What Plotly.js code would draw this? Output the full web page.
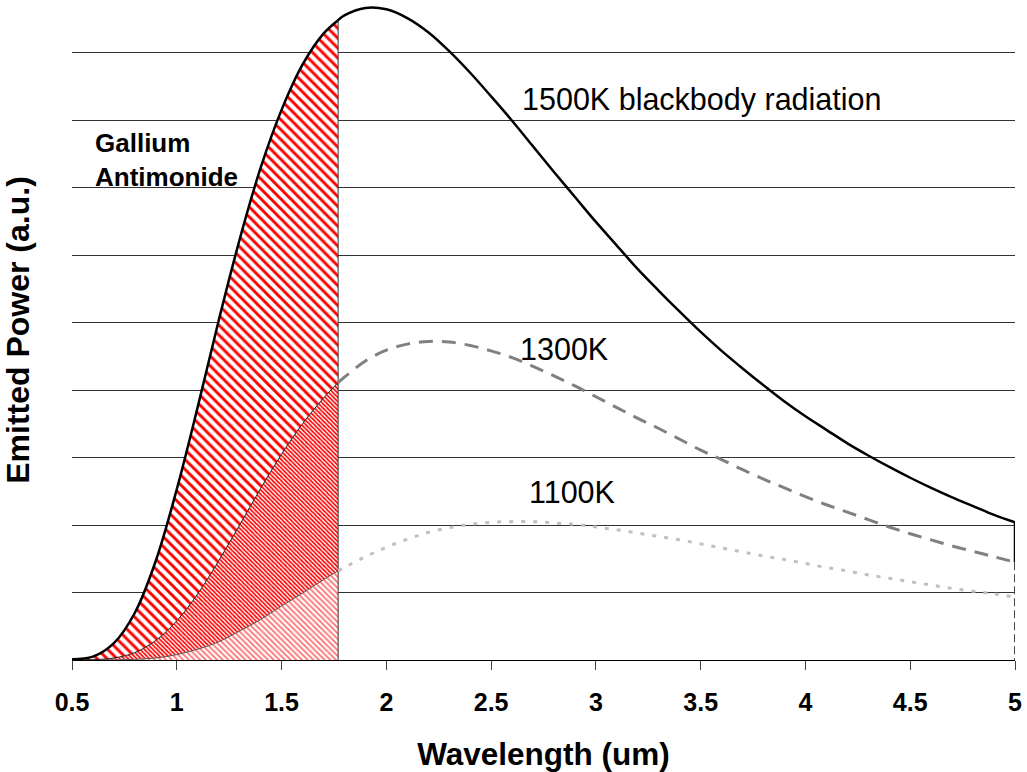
<!DOCTYPE html>
<html><head><meta charset="utf-8">
<script src="https://cdn.plot.ly/plotly-3.0.1.min.js"></script>
<style>html,body{margin:0;padding:0;background:#fff;} #chart{width:1027px;height:772px;}</style>
</head><body><div id="chart"></div>
<script>
// Wavelength samples (um)
const wavelength = [0.5,0.6,0.7,0.8,0.9,1.0,1.1,1.2,1.3,1.4,1.5,1.6,1.7,1.77,1.8,1.9,2.0,2.1,2.2,2.3,2.4,2.5,2.6,2.7,2.8,2.9,3.0,3.1,3.2,3.3,3.4,3.5,3.6,3.7,3.8,3.9,4.0,4.1,4.2,4.3,4.4,4.5,4.6,4.7,4.8,4.9,5.0];
// Emitted power (a.u., gridline units)
const power1500 = [0.01,0.05,0.25,0.70,1.47,2.53,3.75,5.03,6.23,7.29,8.15,8.82,9.28,9.48,9.55,9.66,9.64,9.51,9.30,9.02,8.70,8.35,7.99,7.61,7.23,6.86,6.49,6.14,5.79,5.47,5.16,4.86,4.58,4.32,4.07,3.83,3.61,3.41,3.21,3.03,2.86,2.70,2.55,2.41,2.28,2.15,2.04];
const power1300 = [0.00,0.005,0.03,0.11,0.29,0.58,0.98,1.47,2.00,2.54,3.05,3.50,3.88,4.11,4.19,4.43,4.59,4.68,4.72,4.71,4.66,4.58,4.48,4.35,4.21,4.06,3.90,3.74,3.58,3.43,3.27,3.11,2.97,2.82,2.68,2.55,2.42,2.30,2.19,2.08,1.97,1.87,1.78,1.69,1.61,1.53,1.45];
const power1100 = [0.00,0.00,0.002,0.01,0.03,0.08,0.16,0.27,0.43,0.60,0.80,0.99,1.19,1.32,1.37,1.53,1.67,1.79,1.89,1.96,2.01,2.04,2.05,2.05,2.03,2.01,1.97,1.93,1.88,1.83,1.78,1.72,1.66,1.60,1.54,1.49,1.43,1.37,1.32,1.26,1.21,1.16,1.11,1.06,1.02,0.98,0.93];
const tickValues = [0.5,1,1.5,2,2.5,3,3.5,4,4.5,5];
const tickLabels = ['0.5','1','1.5','2','2.5','3','3.5','4','4.5','5'];
const gasbCutoff = 1.77;
const curveLabels = ['1500K blackbody radiation','1300K','1100K'];
const materialLabel = 'Gallium<br>Antimonide';
const xTitle = 'Wavelength (um)';
const yTitle = 'Emitted Power (a.u.)';

const FONT = 'Liberation Sans, Arial, sans-serif';
const idxIn = wavelength.map((x,i)=> x <= gasbCutoff + 1e-9 ? i : -1).filter(i=>i>=0);
const idxOut = wavelength.map((x,i)=> x >= gasbCutoff - 1e-9 ? i : -1).filter(i=>i>=0);
const pick = (arr, idx) => idx.map(i=>arr[i]);
const cutIdx = wavelength.indexOf(gasbCutoff);
const last = wavelength.length - 1;

const traces = [
  {x: pick(wavelength, idxIn), y: pick(power1100, idxIn), type:'scatter', mode:'lines',
   line:{color:'#555555', width:1, shape:'spline'}, fill:'tozeroy',
   fillpattern:{shape:'\\', fgcolor:'#ff7070', bgcolor:'#ffffff', size:4, solidity:0.45}, hoverinfo:'skip'},
  {x: pick(wavelength, idxIn), y: pick(power1300, idxIn), type:'scatter', mode:'lines',
   line:{color:'#222222', width:1, shape:'spline'}, fill:'tonexty',
   fillpattern:{shape:'\\', fgcolor:'#ff0000', bgcolor:'#ffffff', size:3, solidity:0.55}, hoverinfo:'skip'},
  {x: pick(wavelength, idxIn), y: pick(power1500, idxIn), type:'scatter', mode:'lines',
   line:{color:'#000000', width:0, shape:'spline'}, fill:'tonexty',
   fillpattern:{shape:'\\', fgcolor:'#ff0000', bgcolor:'#ffffff', size:7, solidity:0.42}, hoverinfo:'skip'},
  {x: [wavelength[cutIdx], wavelength[cutIdx]], y: [0, power1500[cutIdx]], type:'scatter', mode:'lines',
   line:{color:'#333333', width:1}, hoverinfo:'skip'},
  {x: pick(wavelength, idxOut), y: pick(power1100, idxOut), type:'scatter', mode:'lines',
   line:{color:'#c0c0c0', width:3, dash:'4px,8px', shape:'spline'}},
  {x: pick(wavelength, idxOut), y: pick(power1300, idxOut), type:'scatter', mode:'lines',
   line:{color:'#808080', width:3, dash:'14px,9px', shape:'spline'}},
  {x: wavelength, y: power1500, type:'scatter', mode:'lines',
   line:{color:'#000000', width:2.5, shape:'spline'}},
  {x: [wavelength[last], wavelength[last]], y: [power1500[last], power1300[last]], type:'scatter', mode:'lines',
   line:{color:'#000000', width:2.5}},
  {x: [wavelength[last], wavelength[last]], y: [power1300[last], 0], type:'scatter', mode:'lines',
   line:{color:'#444444', width:2, dash:'8px,4px'}}
];

const layout = {
  width:1027, height:772,
  margin:{l:72, r:12, t:0, b:112},
  paper_bgcolor:'#ffffff', plot_bgcolor:'#ffffff',
  showlegend:false,
  font:{family:FONT, color:'#000000'},
  xaxis:{range:[0.5,5], tickmode:'array', tickvals:tickValues, ticktext:tickLabels,
    ticks:'outside', ticklen:9, tickcolor:'#444444', tickwidth:1, ticklabelstandoff:11,
    showline:true, linecolor:'#000000', linewidth:1, showgrid:false, zeroline:false,
    tickfont:{family:FONT, size:25, weight:'bold', color:'#000000'},
    title:{text:xTitle, font:{family:FONT, size:31.5, weight:'bold', color:'#000000'}, standoff:36}},
  yaxis:{range:[0,9.778], tick0:0, dtick:1, showgrid:true, gridcolor:'#333333', gridwidth:1,
    showticklabels:false, ticks:'', zeroline:false, showline:false,
    title:{text:yTitle, font:{family:FONT, size:32, weight:'bold', color:'#000000'}, standoff:31}},
  annotations:[
    {x:2.637, y:8.31, xref:'x', yref:'y', xanchor:'left', yanchor:'middle', showarrow:false,
     text:curveLabels[0], font:{family:FONT, size:30.5, color:'#000000'}},
    {x:2.628, y:4.61, xref:'x', yref:'y', xanchor:'left', yanchor:'middle', showarrow:false,
     text:curveLabels[1], font:{family:FONT, size:30.5, color:'#000000'}},
    {x:2.671, y:2.49, xref:'x', yref:'y', xanchor:'left', yanchor:'middle', showarrow:false,
     text:curveLabels[2], font:{family:FONT, size:30.5, color:'#000000'}},
    {x:0.6, y:7.41, xref:'x', yref:'y', xanchor:'left', yanchor:'middle', align:'left', showarrow:false,
     text:materialLabel, font:{family:FONT, size:26, weight:'bold', color:'#000000'}}
  ]
};

Plotly.newPlot('chart', traces, layout, {staticPlot:true, displayModeBar:false});
</script>
</body></html>
